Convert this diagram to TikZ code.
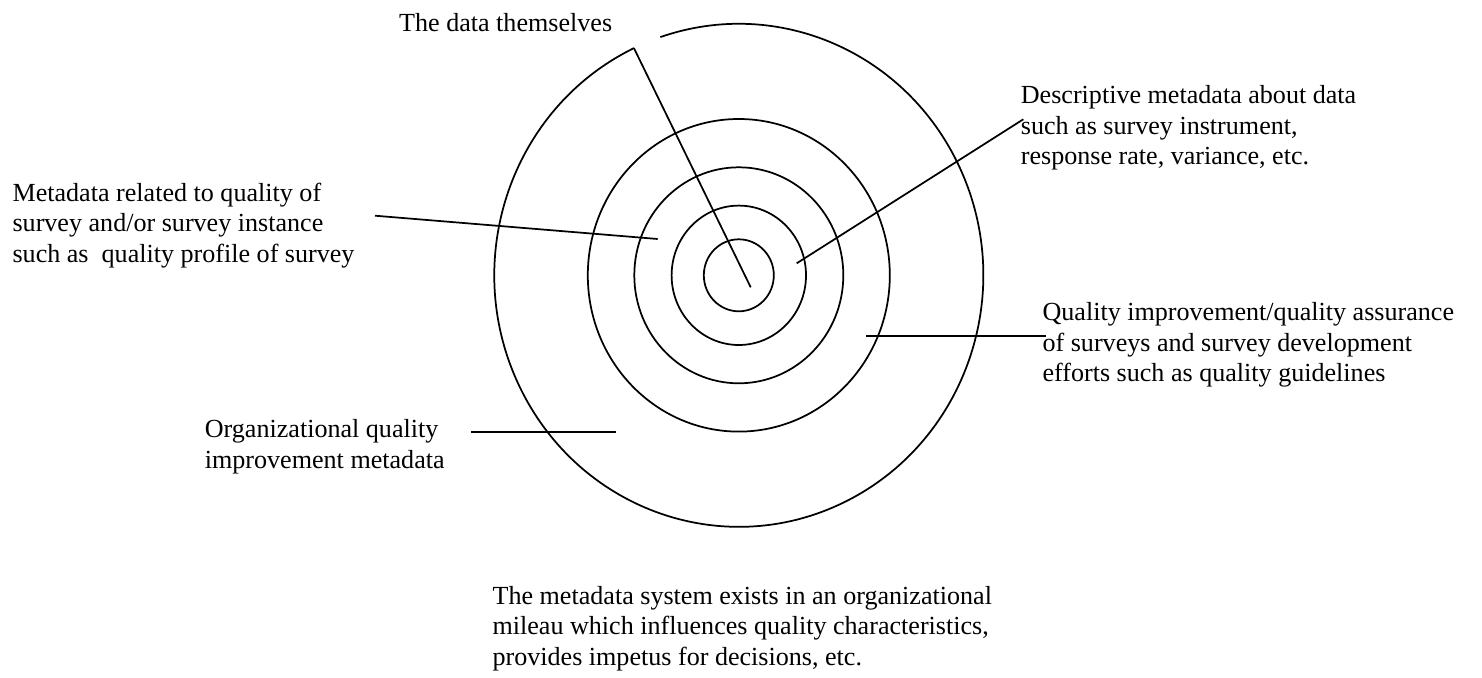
\documentclass[tikz,border=0pt]{standalone}
\usepackage{fontspec}
\setmainfont{Liberation Serif}
\begin{document}
\begin{tikzpicture}[x=0.46pt,y=0.46pt,line width=0.8pt,
	lbl/.style={font=\fontsize{12}{14}\selectfont,align=left,anchor=base west,inner sep=0}]
\useasboundingbox (0,0) rectangle (1482,-677);
\coordinate (c) at (738.8,-275.3);
\foreach \rx/\ry in {35/36,67.2/69.7,104.5/108,151/156.3}
	\draw (c) ellipse[x radius=\rx,y radius=\ry];
\draw (c) ++(115.4:244.5 and 251.5) coordinate (dat-a)
	arc[start angle=115.4,end angle=468.7,x radius=244.5,y radius=251.5];
% labels sit on the baseline of their last line
\node[lbl] (dat) at (398.3,-31.7) {The data themselves};
\node[lbl] (qual) at (11.7,-262) {Metadata related to quality of\\
	survey and/or survey instance\\
	such as\ \ quality profile of survey};
\node[lbl] (desc) at (1020,-164.5) {Descriptive metadata about data\\
	such as survey instrument,\\
	response rate, variance, etc.};
\node[lbl] (qa) at (1041.7,-381.7) {Quality improvement/quality assurance\\
	of surveys and survey development\\
	efforts such as quality guidelines};
\node[lbl] (org) at (204,-468) {Organizational quality\\
	improvement metadata};
\node[lbl] (mil) at (491.7,-665) {The metadata system exists in an organizational\\
	mileau which influences quality characteristics,\\
	provides impetus for decisions, etc.};
\coordinate (dat-b) at (750.7,-287.3);
\coordinate (qual-a) at (375,-215.7);
\coordinate (qual-b) at (657.7,-239);
\coordinate (desc-a) at (1023.3,-119.3);
\coordinate (desc-b) at (796.7,-263.3);
\coordinate (qa-a) at (1046,-336);
\coordinate (qa-b) at (866,-336);
\coordinate (org-a) at (471,-431.7);
\coordinate (org-b) at (615.7,-431.7);
\draw (dat-a) -- (dat-b);
\draw (qual-a) -- (qual-b);
\draw (desc-a) -- (desc-b);
\draw (qa-a) -- (qa-b);
\draw (org-a) -- (org-b);
\end{tikzpicture}
\end{document}
